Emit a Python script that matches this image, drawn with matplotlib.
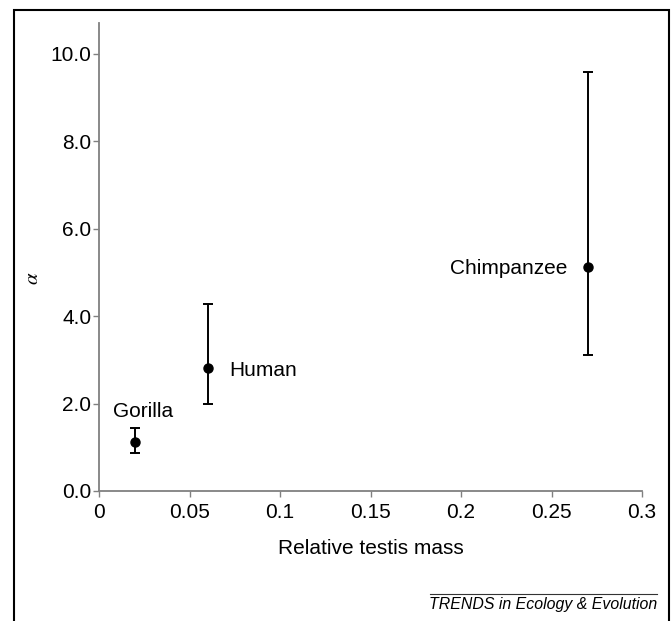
import matplotlib.pyplot as plt
from matplotlib.patches import Rectangle
from matplotlib.lines import Line2D

plt.rcParams['font.family'] = ['Liberation Sans', 'DejaVu Sans']
plt.rcParams['mathtext.fontset'] = 'stix'

species = ["Gorilla", "Human", "Chimpanzee"]
testis_mass = [0.02, 0.06, 0.27]
alpha = [1.13, 2.81, 5.11]
alpha_low = [0.88, 1.98, 3.10]
alpha_high = [1.45, 4.27, 9.58]

fig = plt.figure(figsize=(6.72, 6.21), dpi=100)
# axes box in pixels: x 99..642, y 23..491
ax = fig.add_axes([99 / 672, 1 - 491 / 621, 543 / 672, 468 / 621])

yerr = [[a - lo for a, lo in zip(alpha, alpha_low)],
        [hi - a for a, hi in zip(alpha, alpha_high)]]
ax.errorbar(testis_mass, alpha, yerr=yerr, fmt='o', color='black',
            markersize=6.5, capsize=3.3, elinewidth=1.4, capthick=1.4)

# labels
ax.text(testis_mass[0] + 0.0045, 1.69, species[0],
        ha='center', va='baseline', fontsize=15)
ax.text(testis_mass[1] + 0.012, alpha[1] - 0.18, species[1],
        ha='left', va='baseline', fontsize=15)
ax.text(testis_mass[2] - 0.0115, alpha[2] - 0.16, species[2],
        ha='right', va='baseline', fontsize=15)

ax.set_xlim(0, 0.3)
ax.set_ylim(0, 10.7)
ax.set_xticks([0, 0.05, 0.1, 0.15, 0.2, 0.25, 0.3])
ax.set_xticklabels(["0", "0.05", "0.1", "0.15", "0.2", "0.25", "0.3"])
ax.set_yticks([0, 2, 4, 6, 8, 10])
ax.set_yticklabels(["0.0", "2.0", "4.0", "6.0", "8.0", "10.0"])
ax.tick_params(labelsize=15, color='#808080', length=4, width=1)
ax.tick_params(axis='y', pad=1.5)
ax.tick_params(axis='x', pad=5)

for s in ['top', 'right']:
    ax.spines[s].set_visible(False)
for s in ['left', 'bottom']:
    ax.spines[s].set_color('#808080')
    ax.spines[s].set_linewidth(1.3)

ax.set_xlabel("Relative testis mass", fontsize=15)
ax.xaxis.set_label_coords(0.5, (491 - 539) / 468)
ax.set_ylabel(r"$\alpha$", fontsize=15, rotation=90)
ax.yaxis.set_label_coords((42 - 99) / 543, 0.455)

# outer frame and footer
fig.patches.append(Rectangle((14 / 672, -0.05), (669 - 14) / 672, 1.05 - 10 / 621,
                             transform=fig.transFigure, fill=False,
                             edgecolor='black', linewidth=1.5))
fig.lines.append(Line2D([430 / 672, 657 / 672], [1 - 594 / 621, 1 - 594 / 621],
                        transform=fig.transFigure, color='#333333', linewidth=0.8))
fig.text(657 / 672, 1 - 604 / 621, "TRENDS in Ecology & Evolution",
         ha='right', va='center', style='italic', fontsize=11.4)

fig.savefig("out.png", dpi=100)
